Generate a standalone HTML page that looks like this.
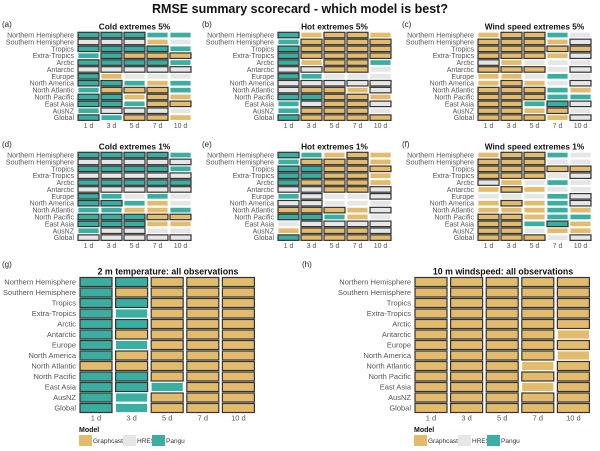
<!DOCTYPE html>
<html><head><meta charset="utf-8">
<style>
html,body{margin:0;padding:0;background:#fff;}
svg{display:block;font-family:"Liberation Sans","DejaVu Sans",sans-serif;}
</style></head>
<body>
<svg id="chart" width="600" height="451" viewBox="0 0 600 451" xmlns="http://www.w3.org/2000/svg">
<text x="300" y="13" text-anchor="middle" font-size="12.5" font-weight="bold" fill="#111">RMSE summary scorecard - which model is best?</text>
</svg>
<script>
const regions = ["Northern Hemisphere","Southern Hemisphere","Tropics","Extra-Tropics","Arctic","Antarctic","Europe","North America","North Atlantic","North Pacific","East Asia","AusNZ","Global"];
const leadTimes = ["1 d","3 d","5 d","7 d","10 d"];
// Codes: G=Graphcast, H=HRES, P=Pangu; uppercase = outlined (significant)
const panelA = ["PPPpp","HHHgh","PPPPp","pPGGG","PPPPp","HHHHH","Pghhh","PPpgp","pGGGp","PPgGg","PPpGG","pHHHh","PpGGg"];
const panelB = ["PgGGg","pGGGG","PGGGG","PGGGG","PgGGp","HHGGh","Pphhh","HHHHH","HGGgH","PPGGg","pHGGH","pGGGh","PGGGG"];
const panelC = ["gGGph","GGGgH","GGGGG","GGGgH","Hghhh","GGGhH","gghph","gGghH","GGGpg","GGGpp","GGpPH","GGgGh","GGGgH"];
const panelD = ["PPPPp","HHHHH","PPPPp","HHHHH","PPPPP","HHHHH","Pphph","PPpgh","ppggp","PPPGG","PPPgg","pHHhh","HHHHH"];
const panelE = ["PpgGg","pGGGg","PPGGG","PPGGg","PGGGg","HHGGH","pHhhH","HHhhh","GGGgH","PPpgh","hHHHH","gGGGH","PGGGG"];
const panelF = ["gGGph","GGGhh","GGGGG","GGGhH","Hghph","gGghh","hhhpH","gGgpH","gggpg","GGgpp","GGpPg","GGhgg","GGGhH"];
const panelG = ["PPGGG","PGGGG","PPGGG","PpGGG","PPGGG","PGGGG","PpGGG","PGGGG","GGGGG","PPGGG","PPpGG","PpGGG","PpGGG"];
const panelH = ["GGGGG","GGGGG","GGGGG","GGGGG","GGGGG","GGGGg","GGGGG","GGGGg","GGGgG","GGGGG","GGGgG","GGGGG","GGGGG"];
const modelNames = ["Graphcast","HRES","Pangu"];

const colors = {g:"#e3bb6c",h:"#e6e6e6",p:"#3aaea1"};
const NS = "http://www.w3.org/2000/svg";
const svg = document.getElementById("chart");
function mk(tag, attrs, parent){const e=document.createElementNS(NS,tag);for(const k in attrs)e.setAttribute(k,attrs[k]);(parent||svg).appendChild(e);return e;}

const panels = [
 {data:panelA,label:"(a)",title:"Cold extremes 5%",x0:78,y0:32.3,cw:21,pitch:23,rh:5.5,rp:6.88,fs:7,lx:2,ly:27,name:"panel-cold-5"},
 {data:panelB,label:"(b)",title:"Hot extremes 5%",x0:278,y0:32.3,cw:21,pitch:23,rh:5.5,rp:6.88,fs:7,lx:202,ly:27,name:"panel-hot-5"},
 {data:panelC,label:"(c)",title:"Wind speed extremes 5%",x0:478,y0:32.3,cw:21,pitch:23,rh:5.5,rp:6.88,fs:7,lx:402,ly:27,name:"panel-wind-5"},
 {data:panelD,label:"(d)",title:"Cold extremes 1%",x0:78,y0:152.3,cw:21,pitch:23,rh:5.5,rp:6.88,fs:7,lx:2,ly:147,name:"panel-cold-1"},
 {data:panelE,label:"(e)",title:"Hot extremes 1%",x0:278,y0:152.3,cw:21,pitch:23,rh:5.5,rp:6.88,fs:7,lx:202,ly:147,name:"panel-hot-1"},
 {data:panelF,label:"(f)",title:"Wind speed extremes 1%",x0:478,y0:152.3,cw:21,pitch:23,rh:5.5,rp:6.88,fs:7,lx:402,ly:147,name:"panel-wind-1"},
 {data:panelG,label:"(g)",title:"2 m temperature: all observations",x0:80,y0:277.5,cw:32,pitch:35.6,rh:9,rp:10.5,fs:7.5,lx:2,ly:267,name:"panel-t2m-all",legend:true},
 {data:panelH,label:"(h)",title:"10 m windspeed: all observations",x0:415,y0:277.5,cw:32,pitch:35.6,rh:9,rp:10.5,fs:7.5,lx:302,ly:267,name:"panel-ws10-all",legend:true}
];

panels.forEach(p=>{
  const g = mk("g",{});
  
  
  const pl = mk("text",{x:p.lx,y:p.ly,"font-size":8,fill:"#222"},g); pl.textContent=p.label;
  
  
  const w = p.pitch*leadTimes.length;
  const t = mk("text",{x:p.x0+w/2-1,y:p.y0-3,"text-anchor":"middle","font-size":p.fs+1.3,"font-weight":"bold",fill:"#111"},g); t.textContent=p.title;
  
  
  regions.forEach((r,i)=>{
    const yc = p.y0 + i*p.rp + p.rh/2;
    const lt = mk("text",{x:p.x0-4,y:yc+p.fs*0.36,"text-anchor":"end","font-size":p.fs,fill:"#555"},g); lt.textContent=r;
    
    
    const row = p.data[i];
    for(let j=0;j<leadTimes.length;j++){
      const c = row[j]; const low = c.toLowerCase(); const bold = c!==low;
      const rect = mk("rect",{x:p.x0+j*p.pitch,y:p.y0+i*p.rp,width:p.cw,height:p.rh,fill:colors[low],stroke:bold?"#333":"#fff","stroke-width":bold?1.2:0.8},g);
      
      
    }
  });
  const yb = p.y0 + (regions.length-1)*p.rp + p.rh + (p.legend?8:7.5);
  leadTimes.forEach((l,j)=>{
    const xt = mk("text",{x:p.x0+j*p.pitch+p.cw/2,y:yb,"text-anchor":"middle","font-size":p.fs,fill:"#555"},g); xt.textContent=l;
    
    
  });
  if(p.legend){
    const lg = mk("g",{},g);
    
    
    const lx = p.x0-1;
    const mt = mk("text",{x:lx,y:432,"font-size":7,"font-weight":"bold",fill:"#111"},lg); mt.textContent="Model";
    
    
    const offs=[0,44,73]; const keys=["g","h","p"];
    modelNames.forEach((m,k)=>{
      const bx = lx+offs[k];
      const r = mk("rect",{x:bx,y:435,width:13,height:11,fill:colors[keys[k]]},lg);
      
      
      const tt = mk("text",{x:bx+14,y:443,"font-size":6.5,fill:"#333"},lg); tt.textContent=m;
      
      
    });
  }
});
</script>
</body></html>
